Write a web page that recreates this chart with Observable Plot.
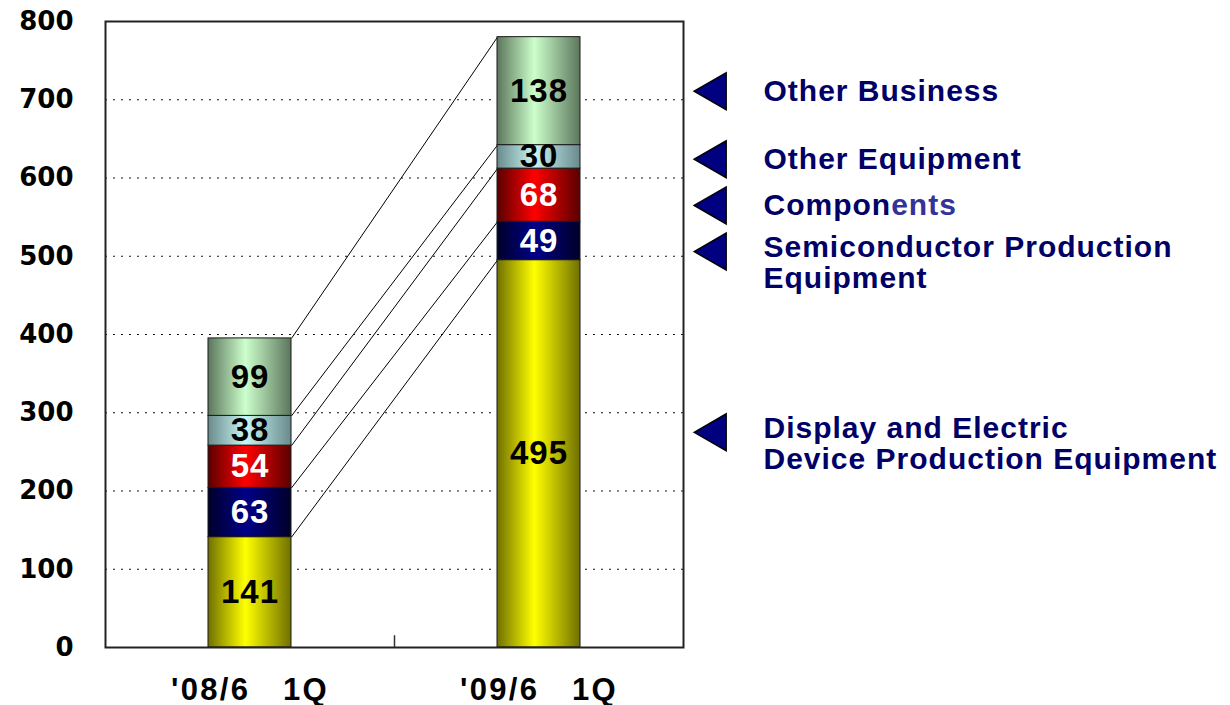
<!DOCTYPE html>
<html>
<head>
<meta charset="utf-8">
<script src="https://cdn.jsdelivr.net/npm/d3@7"></script>
<script src="https://cdn.jsdelivr.net/npm/@observablehq/plot@0.6"></script>
<style>
  html, body { margin: 0; padding: 0; background: #fff; }
  svg text { white-space: pre; }
  .legend-text, .legend-text text { letter-spacing: 1px; }
  .bar-label, .bar-label text { letter-spacing: 1px; }
  .cat-axis, .cat-axis text { letter-spacing: 2.3px; }
</style>
</head>
<body>
<div id="chart"></div>
<script>
// ---- data ----
const categories = ["'08/6   1Q", "'09/6   1Q"];
const segments = [
  "Display and Electric Device Production Equipment",
  "Semiconductor Production Equipment",
  "Components",
  "Other Equipment",
  "Other Business"
];
const q08 = [141, 63, 54, 38, 99];
const q09 = [495, 49, 68, 30, 138];
const yTicks = [0, 100, 200, 300, 400, 500, 600, 700, 800];
const legendLabels = [
  "Other Business",
  "Other Equipment",
  "Components",
  "Semiconductor Production\nEquipment",
  "Display and Electric\nDevice Production Equipment"
];
const legendAt = [711, 624, 565, 506, 275];

// ---- styles ----
const gradients = [
  {id: "g0", edge: "#707000", mid: "#ffff00"},
  {id: "g1", edge: "#00002a", mid: "#000088"},
  {id: "g2", edge: "#5a0000", mid: "#ff0000"},
  {id: "g3", edge: "#6a8a8c", mid: "#c8f6f6"},
  {id: "g4", edge: "#5c765c", mid: "#ccffcc"}
];
const labelColors = ["#000", "#fff", "#fff", "#000", "#000"];
const hw = 0.1436; // half bar width in x units

const series = [q08, q09];
const rows = [];
const cums = series.map(vals => d3.cumsum(vals));
series.forEach((vals, c) => {
  vals.forEach((v, k) => {
    rows.push({
      cat: categories[c], xi: c + 0.5, seg: segments[k], value: v,
      y1: cums[c][k] - v, y2: cums[c][k],
      fill: `url(#${gradients[k].id})`, textFill: labelColors[k]
    });
  });
});
const links = segments.map((s, k) => ({
  x1: 0.5 + hw, y1: cums[0][k], x2: 1.5 - hw, y2: cums[1][k]
}));
const legendRows = legendLabels.map((t, i) => ({label: t, ly: legendAt[i], two: t.includes("\n")}));

const plot = Plot.plot({
  width: 1230,
  height: 705,
  marginLeft: 105,
  marginRight: 547,
  marginTop: 21,
  marginBottom: 58,
  style: {fontFamily: "'Liberation Sans', Arial, sans-serif", background: "#fff", overflow: "visible"},
  x: {domain: [0, 2]},
  y: {domain: [0, 800]},
  color: {type: "identity"},
  marks: [
    Plot.gridY(yTicks, {stroke: "#111", strokeOpacity: 1, strokeWidth: 1.2, strokeDasharray: "2,6"}),
    Plot.link(links, {x1: "x1", y1: "y1", x2: "x2", y2: "y2", stroke: "#000", strokeWidth: 1}),
    Plot.rect(rows, {
      x1: d => d.xi - hw, x2: d => d.xi + hw, y1: "y1", y2: "y2",
      fill: "fill", stroke: "#1a1a1a", strokeWidth: 1
    }),
    Plot.text(rows, {
      x: "xi", y: d => (d.y1 + d.y2) / 2, text: d => String(d.value),
      fill: "textFill", fontSize: 33, fontWeight: "bold", className: "bar-label"
    }),
    Plot.frame({stroke: "#222", strokeWidth: 2}),
    Plot.ruleX([1], {y1: 0, y2: 15, stroke: "#333", strokeWidth: 1.5}),
    Plot.axisY({
      ticks: yTicks, tickSize: 0, tickPadding: 32, tickFormat: d => String(d),
      fontSize: 26, fontWeight: "bold", fontFamily: "'DejaVu Sans', sans-serif", fill: "#000"
    }),
    Plot.axisX({
      ticks: [0.5, 1.5], tickSize: 0, tickPadding: 30,
      tickFormat: d => categories[Math.floor(d)],
      fontSize: 31, fontWeight: "bold", fill: "#000", className: "cat-axis"
    }),
    Plot.dot(legendRows, {
      frameAnchor: "right", y: "ly", dx: 32, symbol: "triangle", rotate: -90, r: 13.7,
      fill: "#000080", stroke: "#000", strokeWidth: 1.5
    }),
    Plot.text(legendRows.filter(d => !d.two), {
      frameAnchor: "right", y: "ly", dx: 80, text: "label", textAnchor: "start",
      fontSize: 30, fontWeight: "bold", fill: "#000066", className: "legend-text"
    }),
    Plot.text(legendRows.filter(d => d.two), {
      frameAnchor: "right", y: "ly", dx: 80, dy: 11, text: "label", textAnchor: "start",
      lineHeight: 1.03, fontSize: 30, fontWeight: "bold", fill: "#000066", className: "legend-text"
    })
  ]
});

// gradient definitions for bar fills
const ns = "http://www.w3.org/2000/svg";
const defs = document.createElementNS(ns, "defs");
gradients.forEach(g => {
  const lg = document.createElementNS(ns, "linearGradient");
  lg.setAttribute("id", g.id);
  lg.setAttribute("x1", "0"); lg.setAttribute("x2", "1");
  lg.setAttribute("y1", "0"); lg.setAttribute("y2", "0");
  [[0, g.edge], [0.45, g.mid], [1, g.edge]].forEach(([o, c]) => {
    const st = document.createElementNS(ns, "stop");
    st.setAttribute("offset", o);
    st.setAttribute("stop-color", c);
    lg.appendChild(st);
  });
  defs.appendChild(lg);
});
plot.insertBefore(defs, plot.firstChild);

// the reference shows "Components" with a lighter tail
plot.querySelectorAll("text").forEach(t => {
  if (t.textContent === "Components") {
    t.textContent = "Compon";
    const ts = document.createElementNS(ns, "tspan");
    ts.setAttribute("fill", "#333399");
    ts.textContent = "ents";
    t.appendChild(ts);
  }
});

document.getElementById("chart").appendChild(plot);
</script>
</body>
</html>
